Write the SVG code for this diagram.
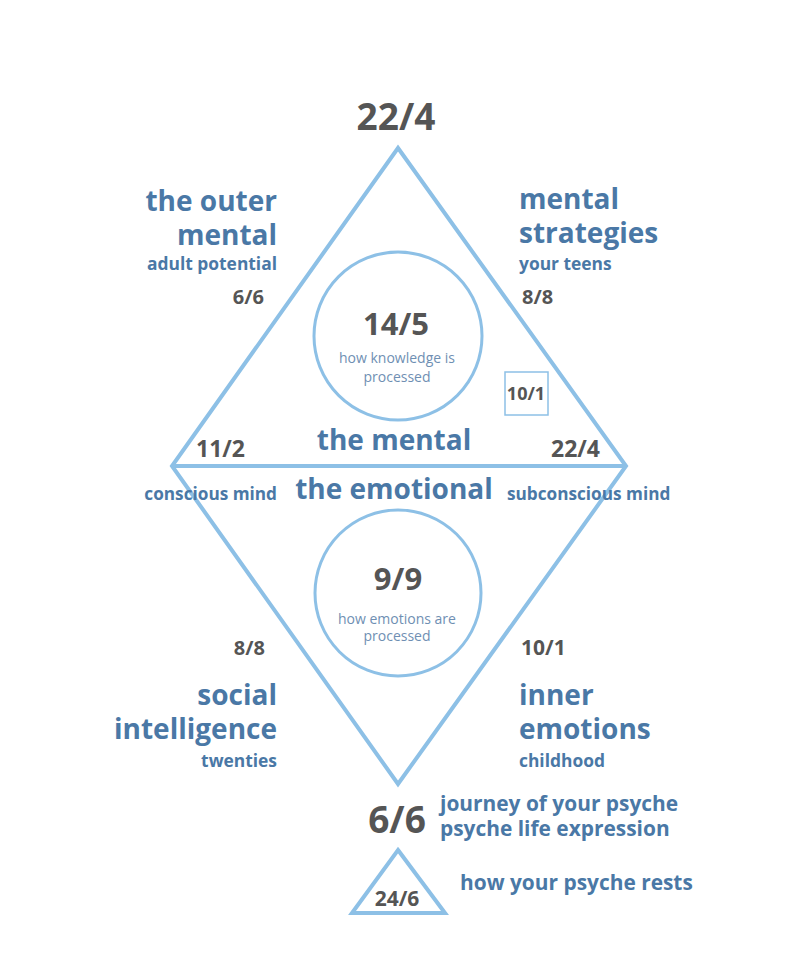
<svg xmlns="http://www.w3.org/2000/svg" width="800" height="957" viewBox="0 0 800 957">
<style>
.ln{fill:none;stroke:#8dc0e6;stroke-width:4;stroke-linejoin:miter}
.ln2{fill:none;stroke:#8dc0e6;stroke-width:3}
text{font-family:"Open Sans","Liberation Sans",sans-serif}
.num{fill:#555;font-weight:700}
.big{fill:#4a78a6;font-weight:700;font-size:28px}
.sub{fill:#4a78a6;font-weight:700;font-size:17.4px}
.mind{fill:#4a78a6;font-weight:700;font-size:17.2px}
.small{fill:#6f8fb3;font-size:14px}
.mid{fill:#4a78a6;font-weight:700;font-size:20.9px}
</style>
<rect width="800" height="957" fill="#fff"/>
<g id="connectors">
<polygon class="ln" points="398,148 626,466 398,784 172,466"/>
<line class="ln" x1="172" y1="466" x2="626" y2="466"/>
</g>
<g id="top">
<text class="num" x="396" y="130" font-size="37" text-anchor="middle">22/4</text>
</g>
<g id="outer-mental">
<text class="big" x="277" y="211" text-anchor="end">the outer</text>
<text class="big" x="277" y="245" text-anchor="end">mental</text>
<text class="sub" x="277" y="270" text-anchor="end">adult potential</text>
<text class="num" x="264" y="304" font-size="20" text-anchor="end">6/6</text>
</g>
<g id="mental-strategies">
<text class="big" x="519" y="209">mental</text>
<text class="big" x="519" y="243">strategies</text>
<text class="sub" x="519" y="270">your teens</text>
<text class="num" x="522" y="304" font-size="20">8/8</text>
</g>
<g id="circle-mental">
<circle class="ln2" cx="398" cy="336" r="84"/>
<text class="num" x="396" y="335" font-size="31" text-anchor="middle">14/5</text>
<text class="small" x="397" y="363" text-anchor="middle">how knowledge is</text>
<text class="small" x="397" y="382" text-anchor="middle">processed</text>
</g>
<g id="box-10-1">
<rect x="505" y="372" width="43" height="43" fill="none" stroke="#8dc0e6" stroke-width="1.5"/>
<text class="num" x="526" y="400" font-size="18" text-anchor="middle">10/1</text>
</g>
<g id="mid">
<text class="big" x="394" y="450" text-anchor="middle">the mental</text>
<text class="num" x="196" y="457" font-size="23">11/2</text>
<text class="num" x="600" y="457" font-size="23" text-anchor="end">22/4</text>
<text class="mind" x="277" y="500" text-anchor="end">conscious mind</text>
<text class="big" x="394" y="499" text-anchor="middle">the emotional</text>
<text class="mind" x="507" y="500">subconscious mind</text>
</g>
<g id="circle-emotional">
<circle class="ln2" cx="398" cy="593" r="83"/>
<text class="num" x="398" y="590" font-size="31" text-anchor="middle">9/9</text>
<text class="small" x="397" y="624" text-anchor="middle">how emotions are</text>
<text class="small" x="397" y="641" text-anchor="middle">processed</text>
</g>
<g id="social">
<text class="num" x="265" y="655" font-size="20" text-anchor="end">8/8</text>
<text class="big" x="277" y="705" text-anchor="end">social</text>
<text class="big" x="277" y="739" text-anchor="end">intelligence</text>
<text class="sub" x="277" y="767" text-anchor="end">twenties</text>
</g>
<g id="inner">
<text class="num" x="521" y="655" font-size="21">10/1</text>
<text class="big" x="519" y="705">inner</text>
<text class="big" x="519" y="739">emotions</text>
<text class="sub" x="519" y="767">childhood</text>
</g>
<g id="bottom">
<text class="num" x="397" y="833" font-size="37" text-anchor="middle">6/6</text>
<text class="mid" x="440" y="811">journey of your psyche</text>
<text class="mid" x="440" y="836">psyche life expression</text>
</g>
<g id="rest">
<polygon class="ln" points="398,850 445,913 352,913"/>
<text class="num" x="397" y="906" font-size="21" text-anchor="middle">24/6</text>
<text class="mid" x="460" y="890">how your psyche rests</text>
</g>
</svg>
